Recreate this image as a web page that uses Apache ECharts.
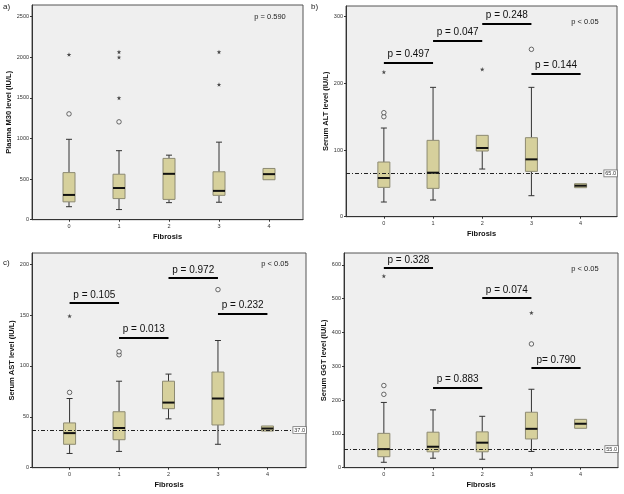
<!DOCTYPE html>
<html>
<head>
<meta charset="utf-8">
<script src="https://cdn.jsdelivr.net/npm/echarts@6/dist/echarts.min.js"></script>
<style>html,body{margin:0;padding:0;background:#fff}#chart{width:624px;height:494px}</style>
</head>
<body>
<div id="chart"></div>
<script>
// ---------- data ----------
const categories = [0, 1, 2, 3, 4];
const xTickLabels = ['0', '1', '2', '3', '4'];

// [min, Q1, median, Q3, max] per fibrosis stage
const m30Box = [[160, 220, 305, 580, 990], [125, 260, 390, 560, 850], [210, 250, 565, 755, 795], [215, 300, 355, 590, 955], [492, 492, 561, 631, 631]];
const m30Circles = [[0, 1303], [1, 1205]];
const m30Stars = [[0, 2033], [1, 1500], [1, 2000], [1, 2066], [3, 1664], [3, 2066]];
const m30Ticks = [0, 500, 1000, 1500, 2000, 2500];
const m30P = 'p = 0.590';

const altBox = [[22, 44, 58, 82, 133], [25, 42.5, 66, 114.5, 194], [71.5, 98.5, 103, 122, 122], [31.5, 68, 86, 118.5, 194], [43.5, 43.5, 46.5, 49.5, 49.5]];
const altCircles = [[0, 150], [0, 156], [3, 251]];
const altStars = [[0, 217], [2, 221]];
const altTicks = [0, 100, 200, 300];
const altRef = 65;
const altPLines = [[0, 1, 231, 'p = 0.497'], [1, 2, 264, 'p = 0.047'], [2, 3, 290, 'p = 0.248'], [3, 4, 215, 'p = 0.144']];

const astBox = [[14, 23, 34, 44, 68], [16, 27.5, 39, 55, 85], [48, 58, 64, 85, 92], [23, 42, 68, 94, 125], [36, 36, 38.5, 41, 41]];
const astCircles = [[0, 74], [1, 111], [1, 114], [3, 175]];
const astStars = [[0, 149]];
const astTicks = [0, 50, 100, 150, 200];
const astRef = 37;
const astPLines = [[0, 1, 162, 'p = 0.105'], [1, 2, 128, 'p = 0.013'], [2, 3, 186.5, 'p = 0.972'], [3, 4, 151.5, 'p = 0.232']];

const ggtBox = [[16, 32.5, 55, 101.6, 193], [28, 47, 62, 105, 171], [25, 47, 74, 106, 152], [48, 85, 115, 164, 232], [116.5, 116.5, 130, 143, 143]];
const ggtCircles = [[0, 217], [0, 243], [3, 366]];
const ggtStars = [[0, 567], [3, 458]];
const ggtTicks = [0, 100, 200, 300, 400, 500, 600];
const ggtRef = 55;
const ggtPLines = [[0, 1, 591, 'p = 0.328'], [1, 2, 236.5, 'p = 0.883'], [2, 3, 501.6, 'p = 0.074'], [3, 4, 295.6, 'p= 0.790']];

const sigText = 'p < 0.05';
// ---------- styling ----------
const FONT = 'Liberation Sans, Arial, sans-serif';
const BOX_FILL = '#d6d09c';
const BOX_STROKE = '#8d8a72';
const STAR = 'path://M0,-10 L2.35,-3.24 L9.51,-3.09 L3.8,1.24 L5.88,8.09 L0,4 L-5.88,8.09 L-3.8,1.24 L-9.51,-3.09 L-2.35,-3.24 Z';

function renderBox(params, api) {
  const x = api.value(0);
  const p = [1, 2, 3, 4, 5].map(i => api.coord([x, api.value(i)]));
  const cx = p[0][0];
  const hw = 6, cap = 3;
  const ws = { stroke: '#333', lineWidth: 1 };
  const children = [];
  if (p[4][1] < p[3][1] - 0.5) {
    children.push({ type: 'line', shape: { x1: cx, y1: p[4][1], x2: cx, y2: p[3][1] }, style: ws });
    children.push({ type: 'line', shape: { x1: cx - cap, y1: p[4][1], x2: cx + cap, y2: p[4][1] }, style: ws });
  }
  if (p[0][1] > p[1][1] + 0.5) {
    children.push({ type: 'line', shape: { x1: cx, y1: p[0][1], x2: cx, y2: p[1][1] }, style: ws });
    children.push({ type: 'line', shape: { x1: cx - cap, y1: p[0][1], x2: cx + cap, y2: p[0][1] }, style: ws });
  }
  children.push({ type: 'rect', shape: { x: cx - hw, y: p[3][1], width: 2 * hw, height: p[1][1] - p[3][1] }, style: { fill: BOX_FILL, stroke: BOX_STROKE, lineWidth: 1 } });
  children.push({ type: 'line', shape: { x1: cx - hw, y1: p[2][1], x2: cx + hw, y2: p[2][1] }, style: { stroke: '#111', lineWidth: 2 } });
  return { type: 'group', children };
}

const panels = [
  { box: m30Box, circles: m30Circles, stars: m30Stars, ticks: m30Ticks, ymax: 2644, xmin: -0.74, xmax: 4.68,
    grid: { left: 32, top: 5, width: 271, height: 214.7 }, name: 'Plasma M30 level (IU/L)', nameGap: 18, ref: null, plines: [] },
  { box: altBox, circles: altCircles, stars: altStars, ticks: altTicks, ymax: 316, xmin: -0.77, xmax: 4.74,
    grid: { left: 346, top: 6, width: 271, height: 210.7 }, name: 'Serum ALT level (IU/L)', nameGap: 15, ref: altRef, plines: altPLines },
  { box: astBox, circles: astCircles, stars: astStars, ticks: astTicks, ymax: 211, xmin: -0.76, xmax: 4.78,
    grid: { left: 32, top: 253, width: 274, height: 214.7 }, name: 'Serum AST level (IU/L)', nameGap: 15, ref: astRef, plines: astPLines },
  { box: ggtBox, circles: ggtCircles, stars: ggtStars, ticks: ggtTicks, ymax: 635, xmin: -0.81, xmax: 4.76,
    grid: { left: 344, top: 253, width: 274, height: 214.7 }, name: 'Serum GGT level (IU/L)', nameGap: 15, ref: ggtRef, plines: ggtPLines }
];

const grid = [], xAxis = [], yAxis = [], series = [];
panels.forEach((pn, i) => {
  grid.push(Object.assign({ show: true, backgroundColor: '#efefef', borderColor: '#555', borderWidth: 1 }, pn.grid));
  xAxis.push({
    type: 'value', gridIndex: i, min: pn.xmin, max: pn.xmax,
    name: 'Fibrosis', nameLocation: 'middle', nameGap: 13,
    nameTextStyle: { fontFamily: FONT, fontSize: 7.5, fontWeight: 'bold', color: '#111' },
    axisLine: { show: true, onZero: false, lineStyle: { color: '#333', width: 1 } },
    axisTick: { show: true, length: 2, customValues: categories, lineStyle: { color: '#333' } },
    axisLabel: { customValues: categories, formatter: v => xTickLabels[categories.indexOf(v)], fontFamily: FONT, fontSize: 5.5, color: '#333', margin: 4 },
    splitLine: { show: false }
  });
  yAxis.push({
    type: 'value', gridIndex: i, min: 0, max: pn.ymax,
    name: pn.name, nameLocation: 'middle', nameGap: pn.nameGap,
    nameTextStyle: { fontFamily: FONT, fontSize: 7.5, fontWeight: 'bold', color: '#111' },
    axisLine: { show: true, onZero: false, lineStyle: { color: '#333', width: 1 } },
    axisTick: { show: true, length: 2, customValues: pn.ticks, lineStyle: { color: '#333' } },
    axisLabel: { customValues: pn.ticks, formatter: v => String(v), fontFamily: FONT, fontSize: 5.5, color: '#333', margin: 3 },
    splitLine: { show: false }
  });
  series.push({
    type: 'custom', xAxisIndex: i, yAxisIndex: i, renderItem: renderBox,
    encode: { x: 0, y: [1, 2, 3, 4, 5] },
    data: pn.box.map((d, k) => [categories[k]].concat(d)), silent: true, z: 3
  });
  series.push({
    type: 'scatter', xAxisIndex: i, yAxisIndex: i, symbol: 'circle', symbolSize: 4.5,
    itemStyle: { color: '#f4f4f4', borderColor: '#333', borderWidth: 0.9 }, data: pn.circles, silent: true, z: 4
  });
  series.push({
    type: 'scatter', xAxisIndex: i, yAxisIndex: i, symbol: STAR, symbolSize: 4.5,
    itemStyle: { color: '#222' }, data: pn.stars, silent: true, z: 4
  });
  const ml = [];
  if (pn.ref !== null) {
    ml.push({ yAxis: pn.ref, name: pn.ref.toFixed(1),
      lineStyle: { color: '#222', width: 1, type: [4, 2, 1, 2] },
      label: { show: true, position: 'insideEnd', distance: 0, formatter: '{b}', fontFamily: FONT, fontSize: 5.5, color: '#333',
        backgroundColor: '#fff', borderColor: '#777', borderWidth: 0.8, padding: [0, 1, 0, 1] } });
  }
  pn.plines.forEach(pl => {
    ml.push([{ name: pl[3], coord: [pl[0], pl[2]] }, { coord: [pl[1], pl[2]] }]);
  });
  series.push({
    type: 'scatter', xAxisIndex: i, yAxisIndex: i, data: [], silent: true, z: 5,
    markLine: {
      silent: true, symbol: 'none', animation: false,
      lineStyle: { color: '#000', width: 2, type: 'solid' },
      label: { show: true, position: 'insideMiddleTop', distance: 3, formatter: '{b}', fontFamily: FONT, fontSize: 10, color: '#111' },
      data: ml
    }
  });
});

function txt(x, y, text, size, align) {
  return { type: 'text', x, y, silent: true, z: 10,
    style: { text, font: size + 'px ' + FONT, fill: '#222', align: align || 'center', verticalAlign: 'middle' } };
}

const chart = echarts.init(document.getElementById('chart'), null, { renderer: 'canvas' });
chart.setOption({
  backgroundColor: '#fff',
  animation: false,
  grid, xAxis, yAxis, series,
  graphic: [
    txt(3, 7, 'a)', 8, 'left'),
    txt(311, 7, 'b)', 8, 'left'),
    txt(3, 263, 'c)', 8, 'left'),
    txt(270, 17, m30P, 7.5),
    txt(585, 22, sigText, 7.5),
    txt(275, 264, sigText, 7.5),
    txt(585, 269, sigText, 7.5)
  ]
});
</script>
</body>
</html>
